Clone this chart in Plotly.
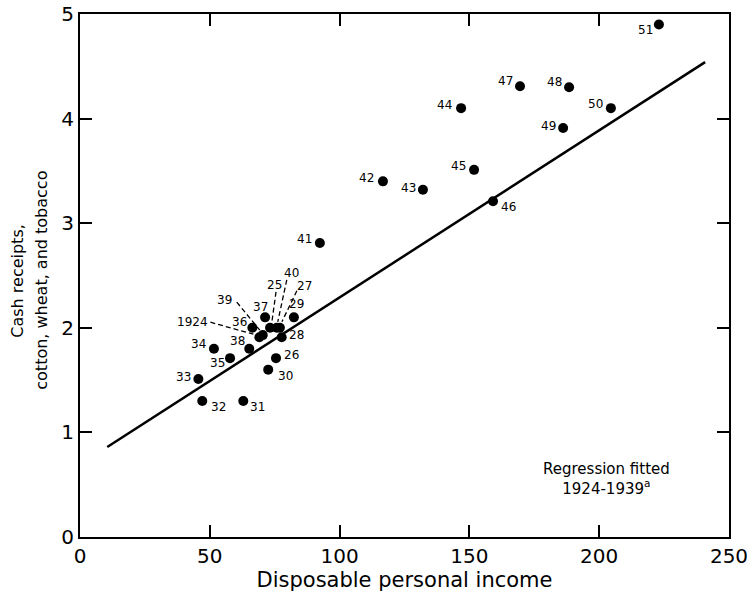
import plotly.graph_objects as go

# ---- data ----
years = ["1924", "25", "26", "27", "28", "29", "30", "31", "32", "33", "34", "35",
         "36", "37", "38", "39", "40", "41", "42", "43", "44", "45", "46", "47",
         "48", "49", "50", "51"]
income = [69.1, 73.2, 75.5, 77.0, 77.7, 82.4, 72.5, 62.9, 47.1, 45.6, 51.6, 57.8,
          66.4, 71.3, 65.2, 70.4, 75.8, 92.4, 116.7, 132.1, 146.8, 151.8, 159.1, 169.5,
          188.4, 186.1, 204.5, 223.0]
receipts = [1.91, 2.00, 1.71, 2.00, 1.91, 2.10, 1.60, 1.30, 1.30, 1.51, 1.80, 1.71,
            2.00, 2.10, 1.80, 1.93, 2.00, 2.81, 3.40, 3.32, 4.10, 3.51, 3.21, 4.31,
            4.30, 3.91, 4.10, 4.90]
reg_x = [10.5, 240.8]
reg_y = [0.86, 4.54]
x_ticks = [0, 50, 100, 150, 200, 250]
y_ticks = [0, 1, 2, 3, 4, 5]

# label offsets (pixels: dx right, dy down) from point centre
label_off = {
    "1924": (-67, -15), "25": (4, -43), "26": (15, -3), "27": (25, -42), "28": (15, -2),
    "29": (3, -13), "30": (17, 6), "31": (14, 6), "32": (16, 6), "33": (-15, -2),
    "34": (-15, -5), "35": (-13, 5), "36": (-13, -6), "37": (-5, -10), "38": (-12, -8),
    "39": (-38, -35), "40": (15, -55), "41": (-15, -4), "42": (-16, -3), "43": (-14, -2),
    "44": (-17, -3), "45": (-16, -4), "46": (15, 6), "47": (-15, -5), "48": (-15, -5),
    "49": (-15, -2), "50": (-15, -4), "51": (-13, 6),
}
# dashed leader lines (pixel offsets from point, dy down)
leaders = {
    "1924": ((-49, -15), (-6, -3)),
    "39": ((-26, -33), (-3, -5)),
    "25": ((6, -36), (2, -7)),
    "40": ((10, -48), (1, -6)),
    "27": ((17, -37), (2, -6)),
}

FONT = "DejaVu Sans"
fig = go.Figure()

fig.add_trace(go.Scatter(x=reg_x, y=reg_y, mode="lines",
                         line=dict(color="black", width=2.5), hoverinfo="skip"))
fig.add_trace(go.Scatter(x=income, y=receipts, mode="markers", text=years,
                         marker=dict(color="black", size=10, line=dict(width=0))))

for yr, xv, yv in zip(years, income, receipts):
    dx, dy = label_off[yr]
    fig.add_annotation(x=xv, y=yv, xref="x", yref="y", text=yr, showarrow=False,
                       xshift=dx, yshift=-dy, font=dict(family=FONT, size=12, color="black"))
    if yr in leaders:
        (ax0, ay0), (ax1, ay1) = leaders[yr]
        fig.add_shape(type="line", xref="x", yref="y", xsizemode="pixel", ysizemode="pixel",
                      xanchor=xv, yanchor=yv, x0=ax0, y0=-ay0, x1=ax1, y1=-ay1,
                      line=dict(color="black", width=1.3, dash="5px,3px"))

fig.add_annotation(x=0.812, y=0.11, xref="paper", yref="paper", showarrow=False,
                   xanchor="center", yanchor="middle",
                   text="Regression fitted<br>1924-1939<sup>a</sup>", align="center",
                   font=dict(family=FONT, size=15, color="black"))

# y-axis title, two lines
fig.add_annotation(x=0, y=0.49, xref="paper", yref="paper", showarrow=False,
                   xanchor="center", yanchor="middle",
                   xshift=-62, textangle=-90, text="Cash receipts,",
                   font=dict(family=FONT, size=16, color="black"))
fig.add_annotation(x=0, y=0.49, xref="paper", yref="paper", showarrow=False,
                   xanchor="center", yanchor="middle",
                   xshift=-38, textangle=-90, text="cotton, wheat, and tobacco",
                   font=dict(family=FONT, size=16, color="black"))

axis_common = dict(showgrid=False, zeroline=False, showline=True, linecolor="black",
                   linewidth=2, mirror="ticks", ticks="inside", ticklen=12,
                   tickwidth=1.5, tickcolor="black", automargin=False,
                   ticklabeloverflow="allow",
                   tickfont=dict(family=FONT, size=20, color="black"))

fig.update_layout(
    width=754, height=593,
    margin=dict(l=80, r=25, t=14, b=56),
    paper_bgcolor="white", plot_bgcolor="white",
    showlegend=False,
    xaxis=dict(range=[0, 250], tickvals=x_ticks,
               title=dict(text="Disposable personal income", standoff=2,
                          font=dict(family=FONT, size=21, color="black")),
               **axis_common),
    yaxis=dict(range=[0, 5], tickvals=y_ticks, **axis_common),
)

fig.write_html("out.html")
